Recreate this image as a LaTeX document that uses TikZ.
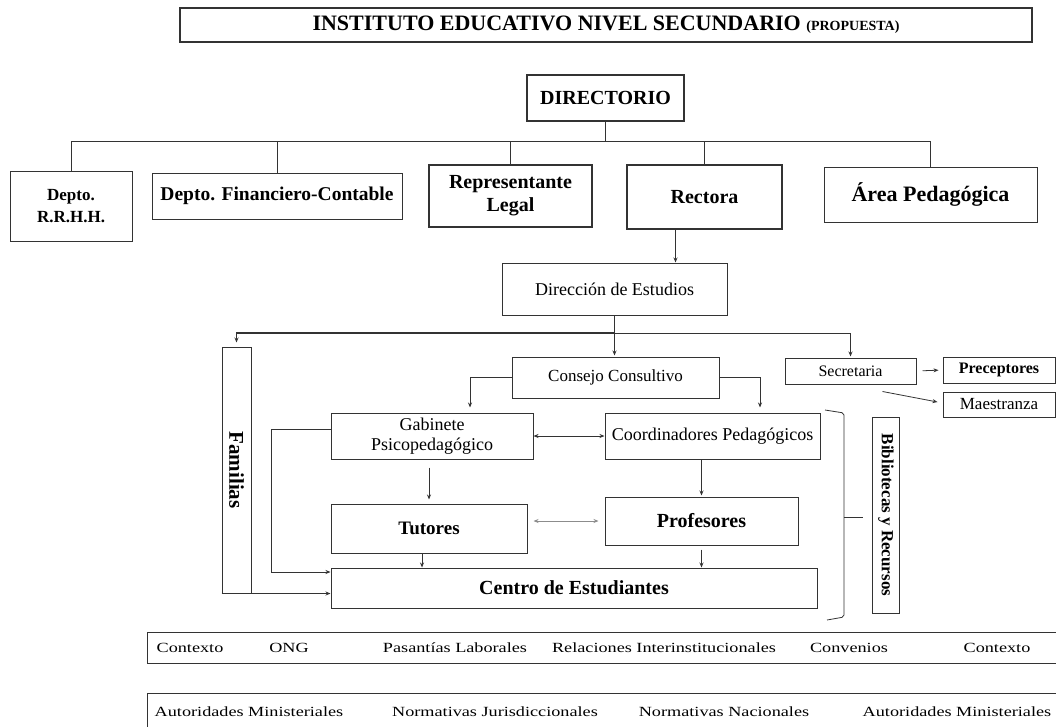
\documentclass[tikz,border=0pt]{standalone}
\usepackage{fontspec}
\setmainfont{Liberation Serif}
\newfontfamily\widefont[FakeStretch=1.3]{Liberation Serif}
\usetikzlibrary{arrows.meta}
\begin{document}
\begin{tikzpicture}[x=1pt,y=-1pt,
  box/.style={draw=black!80, line width=1pt, inner sep=0pt, align=center},
  tbox/.style={box, line width=2pt},
  arr/.style={draw=black!80, -{Stealth[length=5pt,width=4pt]}, line width=0.8pt},
  darr/.style={draw=black!80, {Stealth[length=5pt,width=4pt]}-{Stealth[length=5pt,width=4pt]}, line width=0.8pt},
  ln/.style={draw=black!80, line width=0.8pt},
  sz/.style={font=\fontsize{#1}{#1}\selectfont},
  bsz/.style={font=\fontsize{#1}{#1}\selectfont\bfseries},
  small/.style={font=\widefont\fontsize{14}{15}\selectfont, inner sep=0pt},
]
\useasboundingbox (0,0) rectangle (1056,726);
\clip (0,0) rectangle (1056,726);
\fill[white] (0,0) rectangle (1056,726);

% top
\node[tbox, minimum width=852, minimum height=34, font=\fontsize{22}{24}\selectfont\bfseries] (title) at (606,25)
  {INSTITUTO EDUCATIVO NIVEL SECUNDARIO {\fontsize{14}{15}\selectfont (PROPUESTA)}};
\node[tbox, minimum width=157, minimum height=46, bsz=20] (dir) at (605.5,98) {DIRECTORIO};

\node[box, minimum width=122, minimum height=70, font=\fontsize{17}{22}\selectfont\bfseries] (rrhh) at (71,206) {Depto.\\R.R.H.H.};
\node[box, minimum width=250, minimum height=46, bsz=19.5] (fin) at (277,196) {Depto. Financiero-Contable};
\node[tbox, minimum width=163, minimum height=62, font=\fontsize{20}{23}\selectfont\bfseries] (rep) at (510.5,196) {Representante\\Legal};
\node[tbox, minimum width=155, minimum height=64, bsz=20] (rect) at (704.5,197) {Rectora};
\node[box, minimum width=213, minimum height=55, bsz=22] (area) at (930.5,194.5) {Área Pedagógica};

\coordinate (bus) at (605,141);
\draw[ln] (dir.south) -- (dir.south |- bus);
\draw[ln] (rrhh.north |- bus) -- (area.north |- bus);
\foreach \n in {rrhh,fin,rep,rect,area} \draw[ln] (\n.north) -- (\n.north |- bus);

% middle
\node[box, minimum width=225, minimum height=52, sz=18] (dirE) at (614.5,289) {Dirección de Estudios};
\draw[arr] ([xshift=-29pt]rect.south) -- ([xshift=-29pt]rect.south |- dirE.north);

\node[box, minimum width=29, minimum height=246] (fam) at (236.5,470) {\rotatebox{-90}{\fontsize{21}{21}\selectfont\bfseries Familias}};
\node[box, minimum width=207, minimum height=41, sz=17] (cons) at (615.5,377.5) {Consejo Consultivo};
\node[box, minimum width=131, minimum height=26, sz=16] (sec) at (850.5,371) {Secretaria};
\node[box, minimum width=112, minimum height=26, bsz=16] (prec) at (999,370) {Preceptores};
\node[box, minimum width=112, minimum height=25, sz=17] (maes) at (999,404.5) {Maestranza};

\coordinate (bus2) at (614.5,333);
\draw[ln] (dirE.south) -- (bus2);
\draw[arr, shorten >=1pt] (bus2) -- (bus2 |- cons.north);
\draw[arr, line width=1.3pt, shorten >=4pt] (bus2) -| (fam.north);
\draw[arr, shorten >=1pt] (bus2) -| (sec.north);

\node[box, minimum width=202, minimum height=46, font=\fontsize{18}{20}\selectfont] (gab) at (432,436) {Gabinete\\Psicopedagógico};
\node[box, minimum width=215, minimum height=46, sz=18] (coord) at (712.5,436) {Coordinadores Pedagógicos};
\node[box, minimum width=196, minimum height=49, bsz=19] (tut) at (429,528.5) {Tutores};
\node[box, minimum width=193, minimum height=48, bsz=20] (prof) at (701.5,521) {Profesores};
\node[box, minimum width=486, minimum height=40, bsz=20] (centro) at (574,588) {Centro de Estudiantes};
\node[box, minimum width=27, minimum height=196] (bib) at (886,515) {\rotatebox{-90}{\fontsize{17}{17}\selectfont\bfseries Bibliotecas y Recursos}};

\draw[arr, shorten >=5pt] (cons.west) -| ([xshift=38pt]gab.north);
\draw[arr, shorten >=5pt] (cons.east) -| ([xshift=47.5pt]coord.north);
\draw[arr, shorten <=6pt, shorten >=4pt] (sec.east) -- (prec.west);
\draw[arr] ([xshift=32pt,yshift=-7pt]sec.south) -- ([xshift=-5pt,yshift=2.5pt]maes.west);
\draw[darr] (gab.east) -- (coord.west);
\draw[arr, shorten <=8pt, shorten >=4pt] (tut.north |- gab.south) -- (tut.north);
\draw[arr, shorten >=1pt] (prof.north |- coord.south) -- (prof.north);
\draw[darr, draw=black!45, shorten <=6pt, shorten >=6pt] (tut.east |- prof.west) -- (prof.west);
\draw[arr] ([xshift=-7pt]tut.south) -- ([xshift=-7pt]tut.south |- centro.north);
\draw[arr, shorten <=4pt] (prof.south) -- (prof.south |- centro.north);
\draw[arr] ([yshift=7pt]gab.west) -- ++(-59,0) |- ([yshift=16pt]centro.west);
\draw[arr] (fam.south west) -- (fam.south west -| centro.west);

% bracket
\draw[ln, rounded corners=2pt] (825,410) -- (844,413) -- (844,617) -- (827,620);
\draw[ln] (844,517) -- (863,517);

% bottom rows
\node[box, minimum width=920, minimum height=31, anchor=north west] (row1) at (147,632) {};
\node[small] (c1) at (190,647.5) {Contexto};
\node[small] (c2) at (289,647.5) {ONG};
\node[small] (c3) at (455,647.5) {Pasantías Laborales};
\node[small] (c4) at (664,647.5) {Relaciones Interinstitucionales};
\node[small] (c5) at (849,647.5) {Convenios};
\node[small] (c6) at (997,647.5) {Contexto};

\node[box, minimum width=920, minimum height=45, anchor=north west] (row2) at (147,693) {};
\node[small] (d1) at (249,712) {Autoridades Ministeriales};
\node[small] (d2) at (495,712) {Normativas Jurisdiccionales};
\node[small] (d3) at (724,712) {Normativas Nacionales};
\node[small] (d4) at (957,712) {Autoridades Ministeriales};
\end{tikzpicture}
\end{document}
